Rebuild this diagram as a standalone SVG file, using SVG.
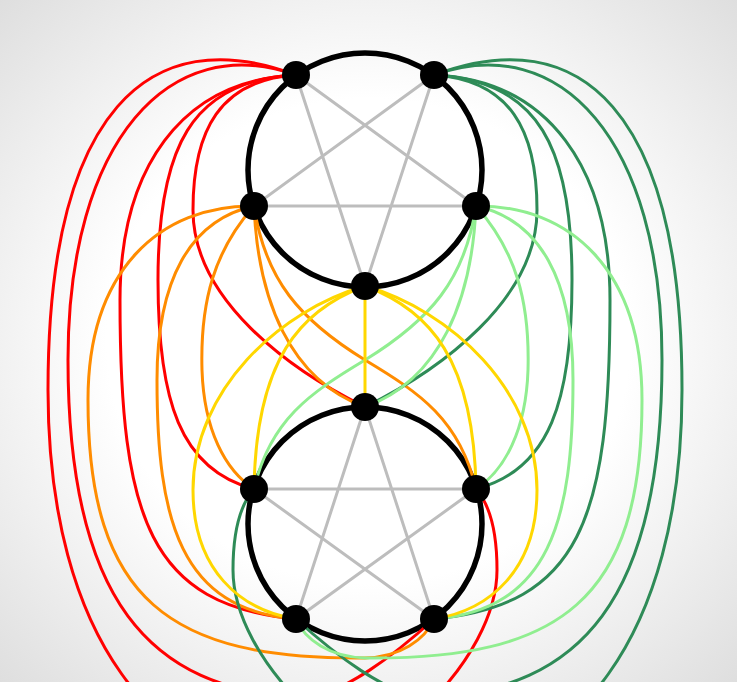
<svg xmlns="http://www.w3.org/2000/svg" width="737" height="682" viewBox="0 0 737 682">
  <defs>
    <radialGradient id="bg" cx="0.5" cy="0.5" r="0.71">
      <stop offset="0" stop-color="#ffffff"/>
      <stop offset="0.5" stop-color="#ffffff"/>
      <stop offset="1" stop-color="#dedede"/>
    </radialGradient>
    <style>
      .e{fill:none;stroke-width:3;stroke-linecap:round}
      .r{stroke:#ff0000}
      .dg{stroke:#2e8b57}
      .o{stroke:#ff8c00}
      .lg{stroke:#90ee90}
      .y{stroke:#ffd700}
      .star{fill:none;stroke:#bdbdbd;stroke-width:3}
      .ring{fill:none;stroke:#000;stroke-width:5.5}
      .v{fill:#000}
    </style>
  </defs>
  <rect x="0" y="0" width="737" height="682" fill="url(#bg)"/>

  <g id="pentagrams">
    <path class="star" d="M296,75 L365,286 L434,75 L254,206 L476,206 Z"/>
    <path class="star" d="M365,407 L296,619 L476,489 L254,489 L434,619 Z"/>
  </g>
  <g id="rings">
    <circle class="ring" cx="365" cy="170" r="117"/>
    <circle class="ring" cx="365" cy="524" r="117"/>
  </g>

  <g id="connectors">
    <g id="left-side">
      <path class="e r" d="M296,75 C150,20 48,110 48,390 C48,640 160,770 300,770 C380,770 497,660 497,570 C497,530 490,505 476,489"/>
      <path class="e r" d="M296,75 C170,30 68,140 68,360 C68,600 150,690 300,697 C340,699 400,650 434,619"/>
      <path class="e r" d="M296,75 C180,80 120,170 120,300 C120,520 150,605 296,619"/>
      <path class="e r" d="M296,75 C190,80 158,150 158,280 C158,400 180,470 254,489"/>
      <path class="e r" d="M296,75 C220,80 193,130 193,210 C193,300 290,370 365,407"/>
      <path class="e o" d="M254,206 C160,205 88,270 88,400 C88,600 170,660 365,658 C400,657 425,640 434,619"/>
      <path class="e o" d="M254,206 C190,220 157,280 157,380 C157,520 180,610 296,619"/>
      <path class="e o" d="M254,206 C215,250 200,300 202,370 C204,430 225,470 254,489"/>
      <path class="e o" d="M254,206 C258,300 290,380 365,407"/>
      <path class="e o" d="M254,206 C265,280 300,320 365,360 C420,393 460,420 476,489"/>
    </g>
    <g id="right-side" transform="matrix(-1,0,0,1,730,0)">
      <path class="e dg" d="M296,75 C150,20 48,110 48,390 C48,640 160,770 300,770 C380,770 497,660 497,570 C497,530 490,505 476,489"/>
      <path class="e dg" d="M296,75 C170,30 68,140 68,360 C68,600 150,690 300,697 C340,699 400,650 434,619"/>
      <path class="e dg" d="M296,75 C180,80 120,170 120,300 C120,520 150,605 296,619"/>
      <path class="e dg" d="M296,75 C190,80 158,150 158,280 C158,400 180,470 254,489"/>
      <path class="e dg" d="M296,75 C220,80 193,130 193,210 C193,300 290,370 365,407"/>
      <path class="e lg" d="M254,206 C160,205 88,270 88,400 C88,600 170,660 365,658 C400,657 425,640 434,619"/>
      <path class="e lg" d="M254,206 C190,220 157,280 157,380 C157,520 180,610 296,619"/>
      <path class="e lg" d="M254,206 C215,250 200,300 202,370 C204,430 225,470 254,489"/>
      <path class="e lg" d="M254,206 C258,300 290,380 365,407"/>
      <path class="e lg" d="M254,206 C265,280 300,320 365,360 C420,393 460,420 476,489"/>
    </g>
    <g id="yellow">
      <path class="e y" d="M365,286 L365,407"/>
      <path class="e y" d="M365,286 C300,310 256,360 254,489"/>
      <path class="e y" d="M365,286 C430,310 474,360 476,489"/>
      <path class="e y" d="M365,286 C280,310 193,390 193,490 C193,570 240,610 296,619"/>
      <path class="e y" d="M365,286 C450,310 537,390 537,490 C537,570 490,610 434,619"/>
    </g>
  </g>

  <g id="nA"><circle class="v" cx="296" cy="75" r="14"/></g>
  <g id="nB"><circle class="v" cx="434" cy="75" r="14"/></g>
  <g id="nC"><circle class="v" cx="254" cy="206" r="14"/></g>
  <g id="nD"><circle class="v" cx="476" cy="206" r="14"/></g>
  <g id="nE"><circle class="v" cx="365" cy="286" r="14"/></g>
  <g id="nF"><circle class="v" cx="365" cy="407" r="14"/></g>
  <g id="nG"><circle class="v" cx="254" cy="489" r="14"/></g>
  <g id="nH"><circle class="v" cx="476" cy="489" r="14"/></g>
  <g id="nI"><circle class="v" cx="296" cy="619" r="14"/></g>
  <g id="nJ"><circle class="v" cx="434" cy="619" r="14"/></g>
</svg>
